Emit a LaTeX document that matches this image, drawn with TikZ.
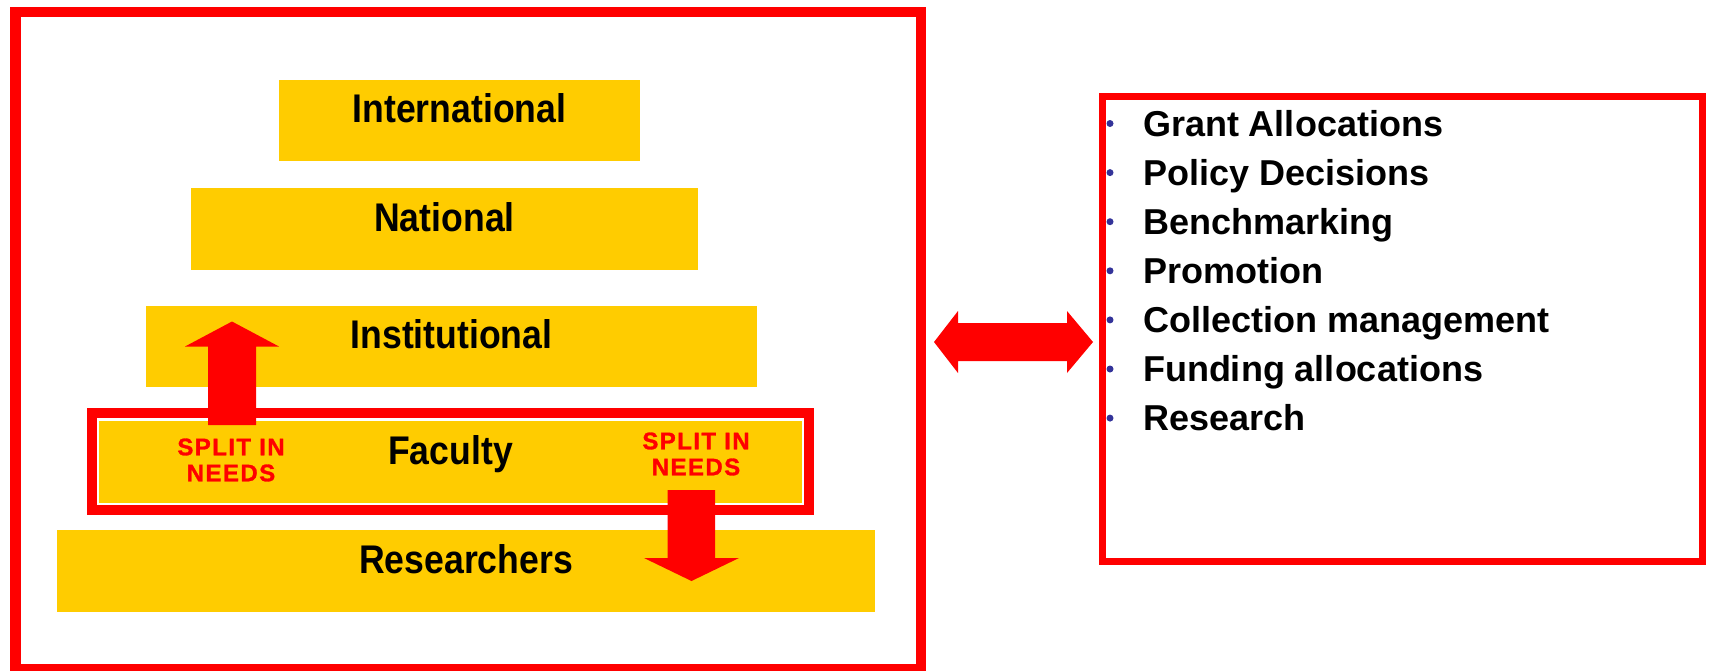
\documentclass[tikz,border=0pt]{standalone}
\usepackage{fontspec}
\setmainfont{Liberation Sans}
\newfontfamily\levelfont[FakeStretch=0.89]{Liberation Sans}
\newfontfamily\splitfont[LetterSpace=6, FakeBold=1.2]{Liberation Sans}
\definecolor{levelyellow}{HTML}{FFCC00}
\definecolor{framered}{HTML}{FF0000}
\definecolor{bulletblue}{HTML}{333399}

\begin{document}
\begin{tikzpicture}[
        x=1pt, y=-1pt,
        every node/.style={inner sep=0pt, outer sep=0pt},
        level/.style={fill=levelyellow, minimum height=81.5},
        levelText/.style={anchor=base, font=\levelfont\bfseries\fontsize{40}{40}\selectfont},
        splitText/.style={align=center, text=framered, font=\splitfont\bfseries\fontsize{24}{26}\selectfont},
        redFrame/.style={draw=framered},
        dot/.style={circle, fill=bulletblue, minimum size=7},
        useText/.style={anchor=base west, font=\bfseries\fontsize{36}{36}\selectfont}
    ]
    \useasboundingbox (0,0) rectangle (1713,670);

    % Frames
    \node[redFrame, line width=10.5, minimum width=905.5, minimum height=657.5] (levels) at (468.25,340.75) {};
    \node[redFrame, line width=7, minimum width=600, minimum height=465] (uses) at (1402.5,329) {};

    % Levels
    \node[level, minimum width=361] (international) at (459.5,120.5) {};
    \node[level, minimum width=507] (national) at (444.5,229) {};
    \node[level, minimum width=611] (institutional) at (451.5,346.5) {};
    \node[level, minimum width=703] (faculty) at (450.5,462) {};
    \node[level, minimum width=818] (researchers) at (466,571) {};
    \node[redFrame, line width=10.5, minimum width=717, minimum height=97] (facultyFrame) at (450.5,461.5) {};

    \node[levelText] (internationalText) at ([yshift=-43pt]international.north) {International};
    \node[levelText] (nationalText) at ([yshift=-43pt]national.north) {National};
    \node[levelText] (institutionalText) at ([yshift=-43pt]institutional.north) {Institutional};
    \node[levelText] (facultyText) at ([yshift=-43pt]faculty.north) {Faculty};
    \node[levelText] (researchersText) at ([yshift=-43pt]researchers.north) {Researchers};

    \node[splitText] (splitUp) at (231,460) {SPLIT IN\\NEEDS};
    \node[splitText] (splitDown) at (696,454) {SPLIT IN\\NEEDS};

    % Block arrows
    \fill[framered] (208,425) -- (208,346.5) -- (185,346.5) -- (232,321.5) -- (279,346.5) -- (256,346.5) -- (256,425) -- cycle;
    \fill[framered] (667.5,490) -- (715,490) -- (715,558) -- (739,558) -- (691.5,581) -- (644,558) -- (667.5,558) -- cycle;
    \fill[framered] (934,342) -- (958,311) -- (958,323) -- (1067,323) -- (1067,311) -- (1093,342)
        -- (1067,373) -- (1067,361) -- (958,361) -- (958,373) -- cycle;

    % Uses
    \node[dot] (dot1) at (1110,123.5) {};
    \node[dot] (dot2) at (1110,172.6) {};
    \node[dot] (dot3) at (1110,221.7) {};
    \node[dot] (dot4) at (1110,270.8) {};
    \node[dot] (dot5) at (1110,319.9) {};
    \node[dot] (dot6) at (1110,369) {};
    \node[dot] (dot7) at (1110,418.1) {};
    \node[useText] (use1) at (1143,136) {Grant Allocations};
    \node[useText] (use2) at (1143,185.1) {Policy Decisions};
    \node[useText] (use3) at (1143,234.2) {Benchmarking};
    \node[useText] (use4) at (1143,283.3) {Promotion};
    \node[useText] (use5) at (1143,332.4) {Collection management};
    \node[useText] (use6) at (1143,381.5) {Funding allocations};
    \node[useText] (use7) at (1143,430.6) {Research};
\end{tikzpicture}
\end{document}
